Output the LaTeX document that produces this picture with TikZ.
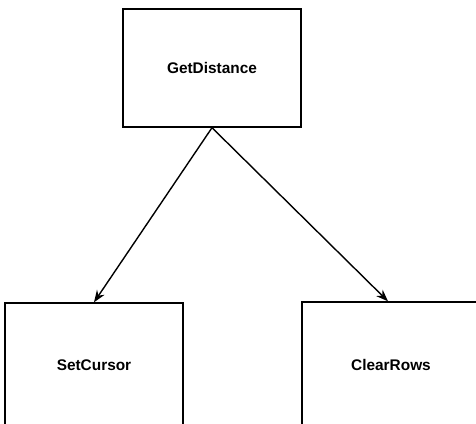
\documentclass[tikz,border=0pt]{standalone}
\usepackage{fontspec}
\setmainfont{Liberation Sans}
\usetikzlibrary{arrows.meta, positioning}
\tikzset{
  callbox/.style={
    draw, line width=1.4pt, fill=white, minimum width=178pt,
    font=\fontsize{15.4}{18}\selectfont\bfseries, inner sep=0pt, align=center
  },
  calls/.style={-{Stealth[length=12pt, width=9pt]}, line width=1.4pt, black}
}
\begin{document}
\begin{tikzpicture}[x=1pt, y=-1pt]
  \clip (0,0) rectangle (476,423);
  \fill[white] (0,0) rectangle (476,423);
  \node[callbox, minimum height=118pt] (dist) at (212,68) {GetDistance};
  \node[callbox, minimum height=124pt] (cursor) at (94,365) {SetCursor};
  \node[callbox, minimum height=126pt] (rows) at (391,365) {ClearRows};
  \draw[calls] (dist.south) -- (cursor.north);
  \draw[calls] (dist.south) -- ([xshift=-3pt]rows.north);
\end{tikzpicture}
\end{document}
